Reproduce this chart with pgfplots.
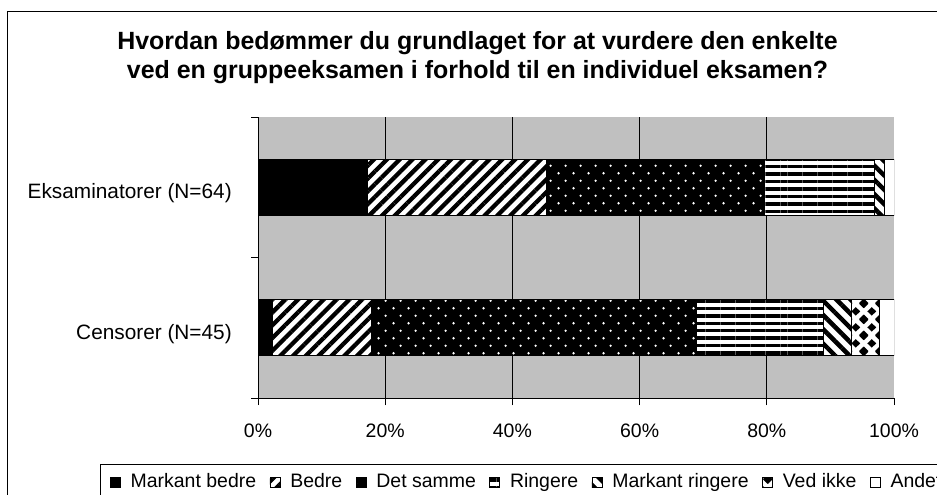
\documentclass[border=0pt]{standalone}
\usepackage{fontspec}
\setmainfont{Liberation Sans}
\usepackage{pgfplots}
\pgfplotsset{compat=1.18}
\usetikzlibrary{patterns,patterns.meta}
\definecolor{plotgray}{RGB}{192,192,192}

\pgfdeclarepatternformonly{exdots}{\pgfpointorigin}{\pgfpoint{11.25pt}{11.6pt}}{\pgfpoint{11.25pt}{11.6pt}}{%
  \pgfpathcircle{\pgfpoint{2.8pt}{2.9pt}}{1.0pt}%
  \pgfpathcircle{\pgfpoint{8.43pt}{8.7pt}}{1.0pt}%
  \pgfusepath{fill}}

\pgfdeclarepatternformonly{exdiamonds}{\pgfpointorigin}{\pgfpoint{12pt}{12pt}}{\pgfpoint{12pt}{12pt}}{%
  \pgfpathmoveto{\pgfpoint{6pt}{2.6pt}}\pgfpathlineto{\pgfpoint{9.4pt}{6pt}}\pgfpathlineto{\pgfpoint{6pt}{9.4pt}}\pgfpathlineto{\pgfpoint{2.6pt}{6pt}}\pgfpathclose
  \pgfpathmoveto{\pgfpoint{0pt}{-3.4pt}}\pgfpathlineto{\pgfpoint{3.4pt}{0pt}}\pgfpathlineto{\pgfpoint{0pt}{3.4pt}}\pgfpathlineto{\pgfpoint{-3.4pt}{0pt}}\pgfpathclose
  \pgfpathmoveto{\pgfpoint{12pt}{-3.4pt}}\pgfpathlineto{\pgfpoint{15.4pt}{0pt}}\pgfpathlineto{\pgfpoint{12pt}{3.4pt}}\pgfpathlineto{\pgfpoint{8.6pt}{0pt}}\pgfpathclose
  \pgfpathmoveto{\pgfpoint{0pt}{8.6pt}}\pgfpathlineto{\pgfpoint{3.4pt}{12pt}}\pgfpathlineto{\pgfpoint{0pt}{15.4pt}}\pgfpathlineto{\pgfpoint{-3.4pt}{12pt}}\pgfpathclose
  \pgfpathmoveto{\pgfpoint{12pt}{8.6pt}}\pgfpathlineto{\pgfpoint{15.4pt}{12pt}}\pgfpathlineto{\pgfpoint{12pt}{15.4pt}}\pgfpathlineto{\pgfpoint{8.6pt}{12pt}}\pgfpathclose
  \pgfusepath{fill}}

\tikzset{
  pMB/.style={fill=black},
  pB/.style={preaction={fill=white}, pattern={Lines[angle=45,distance=6.8pt,line width=3.2pt]}, pattern color=black},
  pDS/.style={preaction={fill=black}, pattern=exdots, pattern color=white},
  pR/.style={preaction={fill=white}, pattern={Lines[angle=0,distance=5.6pt,line width=2.6pt]}, pattern color=black},
  pMR/.style={preaction={fill=white}, pattern={Lines[angle=-45,distance=7.6pt,line width=3.4pt]}, pattern color=black},
  pVI/.style={preaction={fill=white}, pattern=exdiamonds, pattern color=black},
  pA/.style={fill=white},
}

\pgfplotstableread{
y  mb    b     ds    r     mr    vi    a
1  17.19 28.12 34.38 17.19 1.56  0.00  1.56
0  2.22  15.56 51.12 20.00 4.44  4.44  2.22
}\datatable

\begin{document}
\begin{tikzpicture}
\useasboundingbox (0pt,0pt) rectangle (702.75pt,-371.25pt);
\begin{scope}
\clip (0pt,0pt) rectangle (702.75pt,-371.25pt);
\draw[black, line width=0.75pt] (5.25pt,-8.75pt) rectangle (720pt,-390pt);
\node[font=\bfseries\fontsize{18.7}{22}\selectfont, anchor=base, inner sep=0pt] at (358.1pt,-37.1pt) {Hvordan bedømmer du grundlaget for at vurdere den enkelte};
\node[font=\bfseries\fontsize{18.7}{22}\selectfont, anchor=base, inner sep=0pt] at (358.1pt,-58.6pt) {ved en gruppeeksamen i forhold til en individuel eksamen?};
\begin{axis}[
  at={(193.5pt,-298.5pt)}, anchor=south west,
  scale only axis, width=477pt, height=210.75pt,
  xbar stacked, bar width=0.4,
  xmin=0, xmax=100, ymin=-0.5, ymax=1.5,
  enlargelimits=false,
  axis background/.style={fill=plotgray},
  axis x line*=bottom, axis y line*=left,
  axis line style={-, black, line width=0.75pt},
  tick align=outside,
  major tick length=5.25pt, minor tick length=5.25pt,
  every tick/.style={black, line width=0.75pt},
  xtick={0,20,40,60,80,100},
  xticklabels={0\%,20\%,40\%,60\%,80\%,100\%},
  extra x ticks={20,40,60,80}, extra x tick labels={},
  extra x tick style={grid=major},
  major grid style={black, line width=0.75pt},
  ytick={0,1},
  yticklabels={Censorer (N=45),Eksaminatorer (N=64)},
  major y tick style={draw=none},
  minor ytick={-0.5,0.5,1.5},
  minor y tick style={draw=black, line width=0.75pt},
  tick label style={font=\fontsize{14.6}{17}\selectfont, inner sep=0pt},
  xticklabel style={anchor=base, yshift=-24.6pt},
  yticklabel style={font=\fontsize{15.6}{18}\selectfont, anchor=base east, xshift=-14.25pt, yshift=-8.6pt},
  legend columns=-1,
  legend image code/.code={\draw[#1] (0pt,-3.75pt) rectangle (7.5pt,3.75pt);},
  legend style={at={(-0.2484,-0.2349)}, anchor=north west, draw=black, line width=0.75pt,
    font=\fontsize{14.6}{17}\selectfont, inner xsep=7pt, inner ysep=4.8pt,
    nodes={inner sep=2pt, text height=10.5pt, text depth=3pt},
    /tikz/every even column/.append style={column sep=8pt},
    /tikz/every odd column/.append style={column sep=5.5pt}},
]
\addplot[pMB, draw=black, line width=0.6pt] table[x=mb, y=y] {\datatable};
\addplot[pB, draw=black, line width=0.6pt] table[x=b, y=y] {\datatable};
\addplot[pDS, draw=black, line width=0.6pt] table[x=ds, y=y] {\datatable};
\addplot[pR, draw=black, line width=0.6pt] table[x=r, y=y] {\datatable};
\addplot[pMR, draw=black, line width=0.6pt] table[x=mr, y=y] {\datatable};
\addplot[pVI, draw=black, line width=0.6pt] table[x=vi, y=y] {\datatable};
\addplot[pA, draw=black, line width=0.6pt] table[x=a, y=y] {\datatable};
\legend{Markant bedre, Bedre, Det samme, Ringere, Markant ringere, Ved ikke, Andet}
\end{axis}
\end{scope}
\end{tikzpicture}
\end{document}
